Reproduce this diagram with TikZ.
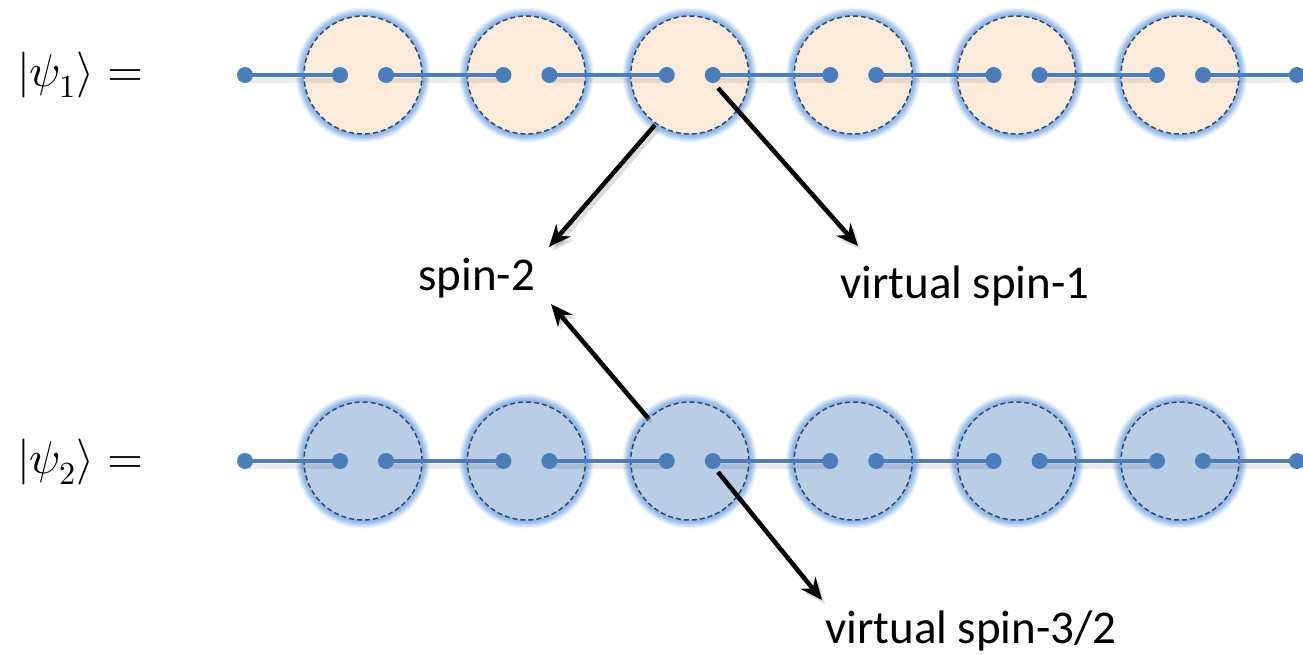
\documentclass[tikz,border=0pt]{standalone}
\usepackage{fontspec}
\usepackage{unicode-math}
\setmainfont{Carlito}
\setmathfont{Latin Modern Math}
\usetikzlibrary{arrows.meta}
\definecolor{lineblue}{HTML}{4A7EBB}
\definecolor{peach}{HTML}{FCEADB}
\definecolor{paleblue}{HTML}{B9CDE5}
\definecolor{glowblue}{HTML}{8CB4E8}
\definecolor{dashblue}{HTML}{2A4A75}
\tikzset{
  site/.style={circle, minimum size=118pt, inner sep=0pt, draw=dashblue, line width=1.5pt, dash pattern=on 5pt off 3pt},
  topsite/.style={site, fill=peach},
  botsite/.style={site, fill=paleblue},
  dot/.style={circle, fill=lineblue, minimum size=16pt, inner sep=0pt},
  bond/.style={draw=lineblue, line width=4pt},
  bondshadow/.style={draw=black, opacity=0.08, line width=5pt},
  pointer/.style={draw=black, line width=4.5pt, -{Stealth[length=22pt,width=19pt]}},
  lbl/.style={font=\fontsize{47}{56}\selectfont, inner sep=0pt, anchor=base west},
  ket/.style={font=\fontsize{46}{54}\selectfont, inner sep=0pt}
}
\begin{document}
\begin{tikzpicture}[x=1pt,y=-1pt]
\useasboundingbox (0,0) rectangle (1303,654);
% glows
\foreach \row in {75,461}{
  \foreach \i in {0,...,5}{
    \pgfmathsetmacro{\cx}{363+163.4*\i}
    \foreach \r/\o in {67.5/0.15,66/0.25,64.5/0.35,63/0.5,61.5/0.7}{
      \fill[glowblue, opacity=\o] (\cx,\row) circle (\r);
    }
  }
}
% sites
\foreach \i in {0,...,5}{
  \pgfmathsetmacro{\cx}{363+163.4*\i}
  \node[topsite] (c\i) at (\cx,75) {};
  \node[botsite] (d\i) at (\cx,461) {};
}
% dot coordinates
\foreach \i in {0,...,5}{
  \pgfmathsetmacro{\cx}{363+163.4*\i}
  \coordinate (tl\i) at (\cx-23,75);
  \coordinate (tr\i) at (\cx+23,75);
  \coordinate (bl\i) at (\cx-23,461);
  \coordinate (br\i) at (\cx+23,461);
}
\coordinate (tstart) at (245,75);
\coordinate (tend) at (1297,75);
\coordinate (bstart) at (245,461);
\coordinate (bend) at (1297,461);
% bond shadows
\foreach \a/\b in {tstart/tl0,tr0/tl1,tr1/tl2,tr2/tl3,tr3/tl4,tr4/tl5,tr5/tend,
                   bstart/bl0,br0/bl1,br1/bl2,br2/bl3,br3/bl4,br4/bl5,br5/bend}{
  \draw[bondshadow, transform canvas={shift={(1pt,-5pt)}}] (\a) -- (\b);
}
% bonds
\foreach \a/\b in {tstart/tl0,tr0/tl1,tr1/tl2,tr2/tl3,tr3/tl4,tr4/tl5,tr5/tend,
                   bstart/bl0,br0/bl1,br1/bl2,br2/bl3,br3/bl4,br4/bl5,br5/bend}{
  \draw[bond] (\a) -- (\b);
}
% dot nodes
\node[dot] (ts) at (tstart) {};
\node[dot] (te) at (tend) {};
\node[dot] (bs) at (bstart) {};
\node[dot] (be) at (bend) {};
\foreach \i in {0,...,5}{
  \node[dot] (tdl\i) at (tl\i) {};
  \node[dot] (tdr\i) at (tr\i) {};
  \node[dot] (bdl\i) at (bl\i) {};
  \node[dot] (bdr\i) at (br\i) {};
}
% labels
\node[ket] (k1) at (80,75) {$|\psi_1\rangle =$};
\node[ket] (k2) at (80,462) {$|\psi_2\rangle =$};
\node[lbl] (s2) at (418,290) {spin-2};
\node[lbl] (v1) at (840,298) {virtual spin-1};
\node[lbl] (v32) at (825,643) {virtual spin-3/2};
\coordinate (a1s) at (655,125);
\coordinate (a1e) at (549,247);
\coordinate (a2s) at (718,88);
\coordinate (a2e) at (858,246);
\coordinate (a3s) at (648,418);
\coordinate (a3e) at (551,304);
\coordinate (a4s) at (718,472);
\coordinate (a4e) at (822,600);
% arrow shadows
\foreach \s/\e in {a1s/a1e,a2s/a2e,a3s/a3e,a4s/a4e}{
  \draw[pointer, draw=black, fill=black, opacity=0.12, transform canvas={shift={(3pt,-4pt)}}] (\s) -- (\e);
}
\draw[pointer] (a1s) -- (a1e);
\draw[pointer] (a2s) -- (a2e);
\draw[pointer] (a3s) -- (a3e);
\draw[pointer] (a4s) -- (a4e);
\end{tikzpicture}
\end{document}
